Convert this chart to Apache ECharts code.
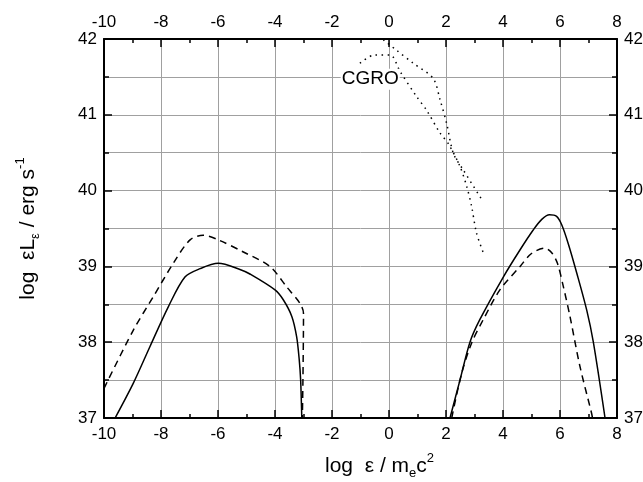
<!DOCTYPE html>
<html>
<head>
<meta charset="utf-8">
<script src="https://cdn.jsdelivr.net/npm/echarts@6/dist/echarts.min.js"></script>
<style>
html, body { margin: 0; padding: 0; background: #fff; }
#main { width: 643px; height: 482px; }
</style>
</head>
<body>
<div id="main"></div>
<script>
// curves: [log eps, log eps L_eps]
var leftSolid = [[-9.61,37.0],[-8.97,37.46],[-8.39,37.94],[-7.74,38.47],[-7.16,38.86],[-6.63,38.97],[-5.99,39.04],[-5.23,38.96],[-4.88,38.9],[-4.0,38.69],[-3.71,38.56],[-3.41,38.34],[-3.24,38.07],[-3.15,37.77],[-3.10,37.5],[-3.06,37.0]];
var leftDashed = [[-10.0,37.39],[-8.97,38.16],[-8.27,38.60],[-7.57,39.04],[-6.98,39.35],[-6.52,39.41],[-5.99,39.35],[-5.11,39.19],[-4.18,39.0],[-3.59,38.73],[-3.12,38.51],[-3.0,38.38],[-3.02,37.5],[-3.04,37.0]];
var rightSolid = [[2.14,37.0],[2.49,37.5],[2.84,38.0],[3.19,38.3],[4.01,38.86],[4.60,39.22],[5.06,39.48],[5.36,39.62],[5.63,39.68],[5.88,39.66],[6.06,39.55],[6.29,39.30],[6.59,38.91],[6.94,38.42],[7.17,38.0],[7.58,37.0]];
var rightDashed = [[2.2,37.0],[2.55,37.59],[2.90,37.99],[3.31,38.3],[3.89,38.69],[4.60,39.0],[5.0,39.17],[5.47,39.24],[5.71,39.18],[5.91,39.04],[6.12,38.73],[6.35,38.34],[6.70,37.68],[7.11,37.06],[7.14,37.0]];
var cgroA = [[-0.2,41.99],[0.27,41.85],[0.85,41.68],[1.55,41.48],[1.79,41.20],[2.02,40.89],[2.26,40.49],[2.61,40.27],[3.31,39.85]];
var cgroB = [[-1.02,41.68],[-0.5,41.79],[0.04,41.79],[0.39,41.57],[0.97,41.24],[1.32,41.06],[1.79,40.76],[2.08,40.62],[2.49,40.32],[2.73,40.05],[2.90,39.79],[3.07,39.44],[3.31,39.18]];
var cgroLabel = [[-0.66,41.47]];

var xRange = [-10, 8];
var yRange = [37, 42];

var fontName = 'Liberation Sans';
var gridColor = '#a0a0a0';

var chart = echarts.init(document.getElementById('main'), null, { renderer: 'canvas' });

function xAx(pos, showName) {
  return {
    type: 'value', position: pos, min: xRange[0], max: xRange[1], interval: 2,
    axisLine: { onZero: false, lineStyle: { color: '#000', width: 2 } },
    axisTick: { inside: true, length: 8, lineStyle: { color: '#000', width: 1.5 } },
    minorTick: { show: true, splitNumber: 2, length: 4, lineStyle: { color: '#000', width: 1.5 } },
    axisLabel: { color: '#000', fontSize: 17, fontFamily: fontName, margin: 8 },
    splitLine: { show: pos === 'bottom', lineStyle: { color: gridColor, width: 1 } },
    name: showName ? 'log  ε / m{sub|e}c{sup|2}' : '',
    nameLocation: 'middle', nameGap: 34,
    nameTextStyle: {
      color: '#000', fontSize: 21, fontFamily: fontName, lineHeight: 28, padding: [0, 0, 0, 38],
      rich: {
        sub: { fontSize: 13, fontFamily: fontName, color: '#000', verticalAlign: 'bottom', lineHeight: 12 },
        sup: { fontSize: 13, fontFamily: fontName, color: '#000', verticalAlign: 'top', lineHeight: 12 }
      }
    }
  };
}

function yAx(pos, showName) {
  return {
    type: 'value', position: pos, min: yRange[0], max: yRange[1], interval: 1,
    axisLine: { onZero: false, lineStyle: { color: '#000', width: 2 } },
    axisTick: { inside: true, length: 8, lineStyle: { color: '#000', width: 1.5 } },
    minorTick: { show: true, splitNumber: 2, length: 5, lineStyle: { color: '#000', width: 1.5 } },
    axisLabel: { color: '#000', fontSize: 17, fontFamily: fontName, margin: 7 },
    splitLine: { show: pos === 'left', lineStyle: { color: gridColor, width: 1 } },
    minorSplitLine: { show: pos === 'left', lineStyle: { color: gridColor, width: 1 } },
    name: showName ? 'log  εL{sub|ε} / erg s{sup|-1}' : '',
    nameLocation: 'middle', nameGap: 62, nameRotate: 90,
    nameTextStyle: {
      color: '#000', fontSize: 21, fontFamily: fontName, lineHeight: 28,
      rich: {
        sub: { fontSize: 13, fontFamily: fontName, color: '#000', verticalAlign: 'bottom', lineHeight: 12 },
        sup: { fontSize: 13, fontFamily: fontName, color: '#000', verticalAlign: 'top', lineHeight: 12 }
      }
    }
  };
}

function curve(data, type, width) {
  return {
    type: 'line', data: data, symbol: 'none', smooth: 0.3, clip: true,
    xAxisIndex: 0, yAxisIndex: 0,
    lineStyle: { color: '#000', width: width, type: type }
  };
}

var option = {
  backgroundColor: '#fff',
  animation: false,
  grid: { left: 104, right: 26, top: 39, bottom: 64, containLabel: false, outerBoundsMode: 'none' },
  xAxis: [xAx('bottom', true), xAx('top', false)],
  yAxis: [yAx('left', true), yAx('right', false)],
  series: [
    curve(leftSolid, 'solid', 1.5),
    curve(leftDashed, [7, 5], 1.5),
    curve(rightSolid, 'solid', 1.5),
    curve(rightDashed, [7, 5], 1.5),
    curve(cgroA, [1.5, 4.5], 1.5),
    curve(cgroB, [1.5, 4.5], 1.5),
    {
      type: 'scatter', data: cgroLabel, symbolSize: 0, xAxisIndex: 0, yAxisIndex: 0, z: 5,
      itemStyle: { opacity: 1 },
      label: {
        show: true, position: 'inside', formatter: 'CGRO', color: '#000',
        fontSize: 19, fontFamily: fontName, backgroundColor: '#fff', padding: [1, 1]
      }
    }
  ]
};

chart.setOption(option);
</script>
</body>
</html>
